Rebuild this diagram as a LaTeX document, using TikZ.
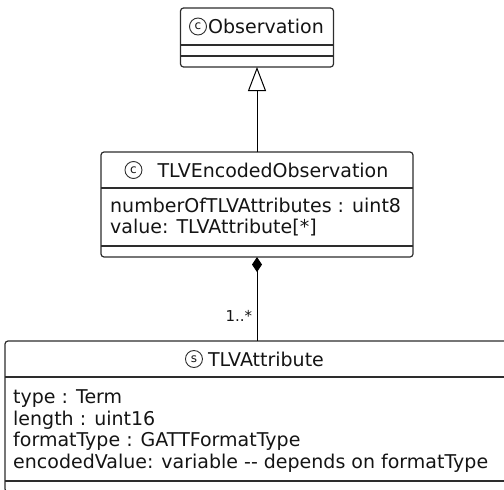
\documentclass[tikz,border=0pt]{standalone}
\usepackage{fontspec}
\setmainfont{DejaVu Sans}
\usepackage{tikz}
\usetikzlibrary{arrows.meta}
\usetikzlibrary{positioning}
\usepackage{xcolor}
\definecolor{umlline}{RGB}{45,45,45}
\definecolor{umltext}{RGB}{20,20,20}

\tikzset{
  compartment/.style={inner sep=0pt, outer sep=0pt, minimum width=#1},
  classline/.style={draw=umlline, line width=1.2pt},
  classname/.style={font=\fontsize{19}{22}\selectfont, text=umltext, inner sep=0pt},
  member/.style={font=\fontsize{19}{21.8}\selectfont, text=umltext, align=left, inner sep=0pt, anchor=west},
  kind/.style={circle, draw=umlline, line width=0.9pt, inner sep=0pt, minimum size=17pt,
    font=\fontsize{12}{12}\selectfont, text=umltext},
  link/.style={draw=black, line width=1pt}
}

\begin{document}
\begin{tikzpicture}[x=1pt, y=-1pt]
	\useasboundingbox (0,0) rectangle (504,490);

	% Observation
	\node[compartment=153, minimum height=37pt, anchor=north] (obs) at (257,8) {};
	\node[compartment=153, minimum height=11pt, below=0pt of obs] (obs-attr) {};
	\node[compartment=153, minimum height=11pt, below=0pt of obs-attr] (obs-ops) {};
	\draw[classline, rounded corners=3pt] (obs.north west) rectangle (obs-ops.south east);
	\draw[classline] (obs.south west) -- (obs.south east);
	\draw[classline] (obs-attr.south west) -- (obs-attr.south east);
	\node[classname, xshift=9pt] (obs-name) at (obs) {Observation};
	\node[kind, left=1pt of obs-name] (obs-kind) {c};

	% TLVEncodedObservation
	\node[compartment=312, minimum height=36pt, anchor=north] (enc) at (257,152) {};
	\node[compartment=312, minimum height=58pt, below=0pt of enc] (enc-attr) {};
	\node[compartment=312, minimum height=11pt, below=0pt of enc-attr] (enc-ops) {};
	\draw[classline, rounded corners=3pt] (enc.north west) rectangle (enc-ops.south east);
	\draw[classline] (enc.south west) -- (enc.south east);
	\draw[classline] (enc-attr.south west) -- (enc-attr.south east);
	\node[classname, xshift=16pt] (enc-name) at (enc) {TLVEncodedObservation};
	\node[kind, left=15pt of enc-name] (enc-kind) {c};
	\node[member] (enc-members) at ([xshift=9pt]enc-attr.west)
		{numberOfTLVAttributes : uint8\\value: TLVAttribute[*]};

	% TLVAttribute
	\node[compartment=504, minimum height=36pt, anchor=north] (att) at (257,341) {};
	\node[compartment=504, minimum height=104pt, below=0pt of att] (att-attr) {};
	\node[compartment=504, minimum height=11pt, below=0pt of att-attr] (att-ops) {};
	\draw[classline, rounded corners=3pt] (att.north west) rectangle (att-ops.south east);
	\draw[classline] (att.south west) -- (att.south east);
	\draw[classline] (att-attr.south west) -- (att-attr.south east);
	\node[classname, xshift=9pt] (att-name) at (att) {TLVAttribute};
	\node[kind, left=5pt of att-name] (att-kind) {s};
	\node[member] (att-members) at ([xshift=8pt, yshift=-2pt]att-attr.west)
		{type : Term\\length : uint16\\formatType : GATTFormatType\\encodedValue: variable -{}- depends on formatType};

	% generalization
	\draw[link, -{Triangle[open, length=24pt, width=18pt]}] (enc) -- (obs-ops);
	% composition
	\draw[link, {Diamond[length=15pt, width=10pt]}-] (enc-ops) -- (att)
		node[pos=0.7, left=1pt, font=\fontsize{15}{15}\selectfont, text=umltext] (mult) {1..*};
\end{tikzpicture}
\end{document}
